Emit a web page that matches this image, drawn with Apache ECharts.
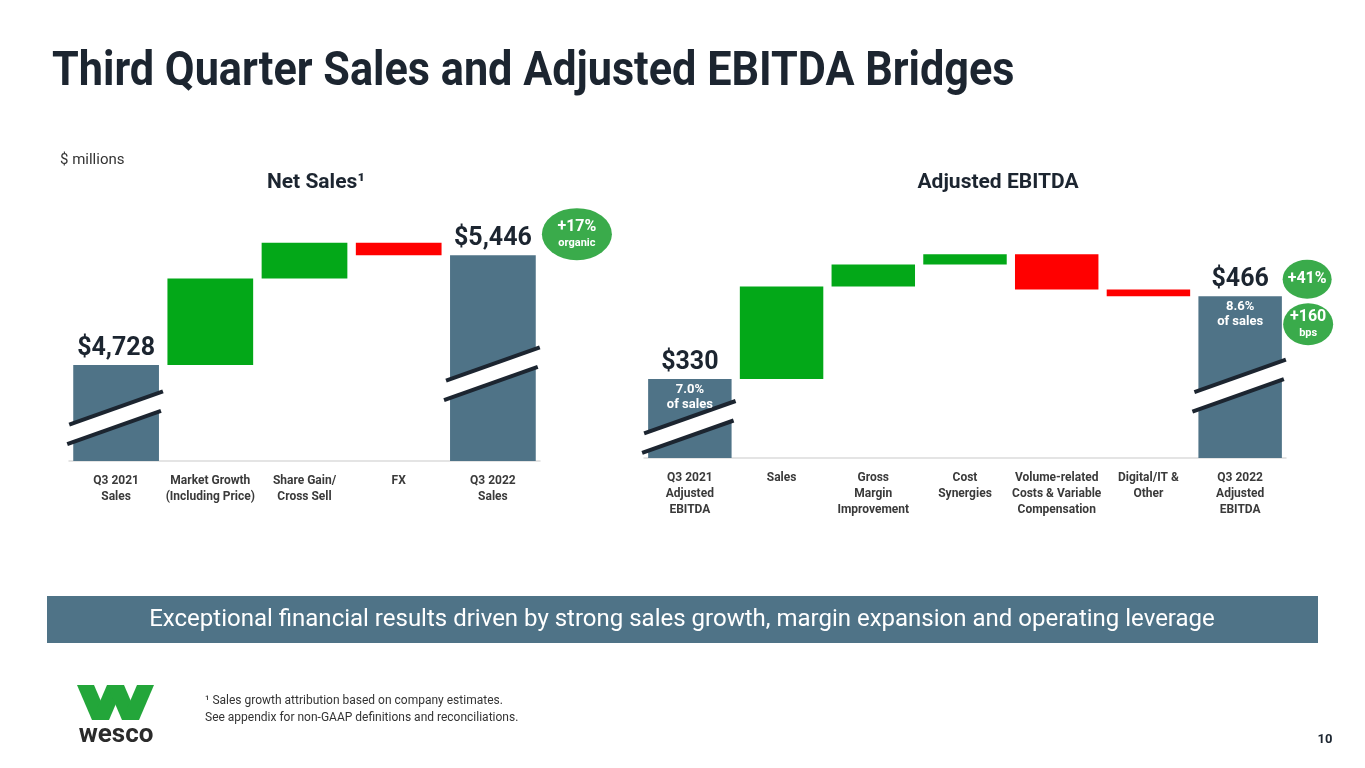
<!DOCTYPE html>
<html><head><meta charset="utf-8">
<script src="https://cdn.jsdelivr.net/npm/echarts@6/dist/echarts.min.js"></script>
<style>html,body{margin:0;padding:0;background:#fff}#c{width:1365px;height:768px}</style>
</head><body><div id="c"></div>
<script>
// ---------- data ----------
const salesCategories = ['Q3 2021\nSales', 'Market Growth\n(Including Price)', 'Share Gain/\nCross Sell', 'FX', 'Q3 2022\nSales'];
const salesStart = 4728;
const salesSteps = [565, 234, -81];
const salesEnd = 5446;
const salesAxisRange = [4100, 5800];
const salesBreakLevels = [4383, 4671];
const salesBadge = ['+17%', 'organic'];

const ebitdaCategories = ['Q3 2021\nAdjusted\nEBITDA', 'Sales', 'Gross\nMargin\nImprovement', 'Cost\nSynergies', 'Volume-related\nCosts & Variable\nCompensation', 'Digital/IT &\nOther', 'Q3 2022\nAdjusted\nEBITDA'];
const ebitdaStart = 330;
const ebitdaSteps = [152, 36, 17, -58, -11];
const ebitdaEnd = 466;
const ebitdaAxisRange = [200, 560];
const ebitdaBreakLevels = [251, 319];
const ebitdaMargins = ['7.0%', '8.6%'];
const ebitdaBadges = [['+41%', ''], ['+160', 'bps']];

// ---------- helpers ----------
const BLUE = '#4f7387', GREEN = '#03a818', RED = '#ff0000', BADGE = '#3aab4b', INK = '#1c2530';
const FONT = 'Roboto';

function waterfall(start, steps, end) {
  const n = steps.length + 2;
  const base = new Array(n).fill('-'), total = new Array(n).fill('-'),
        up = new Array(n).fill('-'), down = new Array(n).fill('-');
  total[0] = start;
  let run = start;
  steps.forEach((s, i) => {
    if (s >= 0) { base[i + 1] = run; up[i + 1] = s; run += s; }
    else { run += s; base[i + 1] = run; down[i + 1] = -s; }
  });
  total[n - 1] = end;
  return { base, total, up, down };
}
const sw = waterfall(salesStart, salesSteps, salesEnd);
const ew = waterfall(ebitdaStart, ebitdaSteps, ebitdaEnd);

function breakRender(params, api) {
  const c = api.coord([api.value(0), api.value(1)]);
  const w = api.size([1, 0])[0];
  const half = w * 0.455 + 4;
  const slope = 0.355, gap = 19.5;
  const x1 = c[0] - half, x2 = c[0] + half;
  const a1 = c[1] + slope * half - gap / 2, a2 = c[1] - slope * half - gap / 2;
  const b1 = a1 + gap, b2 = a2 + gap;
  return {
    type: 'group', children: [
      { type: 'polygon', shape: { points: [[x1, a1], [x2, a2], [x2 - 2, b2], [x1 - 2, b1]] }, style: { fill: '#fff' } },
      { type: 'line', shape: { x1: x1, y1: a1, x2: x2, y2: a2 }, style: { stroke: INK, lineWidth: 4 } },
      { type: 'line', shape: { x1: x1 - 2, y1: b1, x2: x2 - 2, y2: b2 }, style: { stroke: INK, lineWidth: 4 } }
    ]
  };
}

function barSeries(idx, wf, stack) {
  const common = { type: 'bar', xAxisIndex: idx, yAxisIndex: idx, stack: stack, barCategoryGap: '9%', silent: true, emphasis: { disabled: true } };
  return [
    Object.assign({}, common, { data: wf.base, itemStyle: { color: 'transparent' } }),
    Object.assign({}, common, {
      data: wf.total, itemStyle: { color: BLUE },
      label: { show: true, position: 'top', distance: 4, fontFamily: FONT, fontWeight: 'bold', fontSize: 25, color: INK,
        formatter: p => '$' + Number(p.value).toLocaleString('en-US') }
    }),
    Object.assign({}, common, { data: wf.up, itemStyle: { color: GREEN } }),
    Object.assign({}, common, { data: wf.down, itemStyle: { color: RED } })
  ];
}

const badgeRich = {
  a: { fontFamily: FONT, fontWeight: 'bold', fontSize: 16, color: '#fff', lineHeight: 19 },
  b: { fontFamily: FONT, fontWeight: 'bold', fontSize: 11, color: '#fff', lineHeight: 14 }
};

const chart = echarts.init(document.getElementById('c'), null, { renderer: 'canvas' });

const axisLabel = { interval: 0, fontFamily: FONT, fontWeight: 'bold', fontSize: 12, color: '#3a3a3a', lineHeight: 16, margin: 12 };

chart.setOption({
  backgroundColor: '#fff',
  animation: false,
  grid: [
    { left: 69, right: 1365 - 540, top: 201, bottom: 307 },
    { left: 644, right: 1365 - 1286, top: 239, bottom: 310 }
  ],
  xAxis: [0, 1].map(i => ({
    type: 'category', gridIndex: i, data: i === 0 ? salesCategories : ebitdaCategories,
    axisTick: { show: false }, axisLine: { lineStyle: { color: '#dcdcdc', width: 1.5 } },
    axisLabel: axisLabel
  })),
  yAxis: [
    { type: 'value', gridIndex: 0, min: salesAxisRange[0], max: salesAxisRange[1], show: false, splitLine: { show: false } },
    { type: 'value', gridIndex: 1, min: ebitdaAxisRange[0], max: ebitdaAxisRange[1], show: false, splitLine: { show: false } }
  ],
  series: [
    ...barSeries(0, sw, 'sales'),
    ...barSeries(1, ew, 'ebitda'),
    { type: 'custom', xAxisIndex: 0, yAxisIndex: 0, renderItem: breakRender, silent: true, clip: false,
      data: [[0, salesBreakLevels[0]], [salesCategories.length - 1, salesBreakLevels[1]]], z: 5 },
    { type: 'custom', xAxisIndex: 1, yAxisIndex: 1, renderItem: breakRender, silent: true, clip: false,
      data: [[0, ebitdaBreakLevels[0]], [ebitdaCategories.length - 1, ebitdaBreakLevels[1]]], z: 5 },
    { type: 'scatter', xAxisIndex: 1, yAxisIndex: 1, symbolSize: 0, silent: true, z: 6,
      itemStyle: { opacity: 1 },
      data: [[0, ebitdaStart], [ebitdaCategories.length - 1, ebitdaEnd]],
      label: { show: true, position: 'bottom', distance: 3, fontFamily: FONT, fontWeight: 'bold', fontSize: 13, color: '#fff', lineHeight: 15,
        formatter: p => ebitdaMargins[p.dataIndex] + '\nof sales' } },
    { type: 'scatter', xAxisIndex: 0, yAxisIndex: 0, symbol: 'circle', silent: true, z: 6,
      data: [{ value: [salesCategories.length - 1, salesEnd], symbolSize: [70, 52], symbolOffset: [84, -21] }],
      itemStyle: { color: BADGE, opacity: 1 },
      label: { show: true, position: 'inside', rich: badgeRich, formatter: () => '{a|' + salesBadge[0] + '}\n{b|' + salesBadge[1] + '}' } },
    { type: 'scatter', xAxisIndex: 1, yAxisIndex: 1, symbol: 'circle', silent: true, z: 6,
      itemStyle: { color: BADGE, opacity: 1 },
      data: [
        { value: [ebitdaCategories.length - 1, ebitdaEnd], symbolSize: [49, 39], symbolOffset: [67, -17],
          label: { formatter: () => '{a|' + ebitdaBadges[0][0] + '}' } },
        { value: [ebitdaCategories.length - 1, ebitdaEnd], symbolSize: [50, 42], symbolOffset: [68, 28],
          label: { formatter: () => '{a|' + ebitdaBadges[1][0] + '}\n{b|' + ebitdaBadges[1][1] + '}' } }
      ],
      label: { show: true, position: 'inside', rich: badgeRich } }
  ],
  graphic: [
    { type: 'text', x: 52, y: 73, scaleX: 0.9, style: { text: 'Third Quarter Sales and Adjusted EBITDA Bridges', fontFamily: FONT, fontWeight: 'bold', fontSize: 48, fill: INK, verticalAlign: 'middle' } },
    { type: 'text', x: 60, y: 160, style: { text: '$ millions', fontFamily: FONT, fontSize: 15, fill: '#333', verticalAlign: 'middle' } },
    { type: 'text', x: 316, y: 183, style: { text: 'Net Sales¹', fontFamily: FONT, fontWeight: 'bold', fontSize: 21, fill: INK, align: 'center', verticalAlign: 'middle' } },
    { type: 'text', x: 998, y: 183, style: { text: 'Adjusted EBITDA', fontFamily: FONT, fontWeight: 'bold', fontSize: 21, fill: INK, align: 'center', verticalAlign: 'middle' } },
    { type: 'rect', shape: { x: 47, y: 596, width: 1271, height: 47 }, style: { fill: '#4f7387' } },
    { type: 'text', x: 682, y: 620, style: { text: 'Exceptional financial results driven by strong sales growth, margin expansion and operating leverage', fontFamily: FONT, fontSize: 24, fill: '#fff', align: 'center', verticalAlign: 'middle' } },
    { type: 'polygon', shape: { points: [[77, 685], [94, 685], [109, 720], [92, 720]] }, style: { fill: '#23a63a' } },
    { type: 'polygon', shape: { points: [[92, 720], [107, 685], [124, 685], [109, 720]] }, style: { fill: '#23a63a' } },
    { type: 'polygon', shape: { points: [[107, 685], [124, 685], [139, 720], [122, 720]] }, style: { fill: '#23a63a' } },
    { type: 'polygon', shape: { points: [[122, 720], [137, 685], [154, 685], [139, 720]] }, style: { fill: '#23a63a' } },
    { type: 'text', x: 116, y: 735, style: { text: 'wesco', fontFamily: FONT, fontWeight: 'bold', fontSize: 26, fill: '#2b2b2b', align: 'center', verticalAlign: 'middle' } },
    { type: 'text', x: 205, y: 701, style: { text: '¹ Sales growth attribution based on company estimates.', fontFamily: FONT, fontSize: 12, fill: '#333', verticalAlign: 'middle' } },
    { type: 'text', x: 205, y: 718, style: { text: 'See appendix for non-GAAP definitions and reconciliations.', fontFamily: FONT, fontSize: 12, fill: '#333', verticalAlign: 'middle' } },
    { type: 'text', x: 1325, y: 740, style: { text: '10', fontFamily: FONT, fontWeight: 'bold', fontSize: 13, fill: INK, align: 'center', verticalAlign: 'middle' } }
  ]
});
</script>
</body></html>
